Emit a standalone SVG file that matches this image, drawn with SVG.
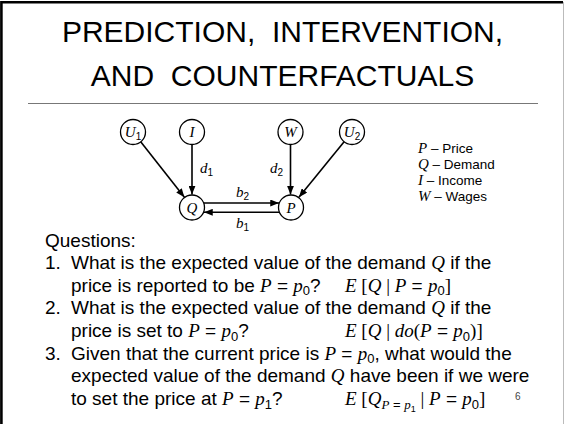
<svg xmlns="http://www.w3.org/2000/svg" width="565" height="424" viewBox="0 0 565 424">
<style>
.t{font-family:"Liberation Sans",Arial,sans-serif;font-size:19px;fill:#000}
.ttl{font-family:"Liberation Sans",Arial,sans-serif;font-size:30px;fill:#000;text-anchor:middle}
.i{font-family:"Liberation Serif","Times New Roman",serif;font-style:italic}
.r{font-family:"Liberation Serif","Times New Roman",serif}
.s{font-size:13px}
.lg{font-family:"Liberation Sans",Arial,sans-serif;font-size:13.5px;fill:#000}
.nl{font-family:"Liberation Serif","Times New Roman",serif;font-style:italic;font-size:15px;fill:#000;text-anchor:middle}
.ns{font-family:"Liberation Sans",Arial,sans-serif;font-style:normal;font-size:10px}
.el{font-family:"Liberation Serif","Times New Roman",serif;font-style:italic;font-size:15px;fill:#000}
.node circle{fill:#fff;stroke:#000;stroke-width:1.3}
.edge{stroke:#000;stroke-width:1.6;fill:none;marker-end:url(#ah)}
</style>
<defs>
<marker id="ah" viewBox="0 0 10 8" refX="10" refY="4" markerWidth="9" markerHeight="7" orient="auto" markerUnits="userSpaceOnUse">
<path d="M0,0 L10,4 L0,8 z" fill="#000"/>
</marker>
</defs>
<rect width="565" height="424" fill="#fff"/>
<path d="M1.4,424 V2.2 H563" stroke="#000" stroke-width="2.6" fill="none"/>
<line x1="563.5" y1="2" x2="563.5" y2="424" stroke="#bbb" stroke-width="1"/>
<g id="title">
<text class="ttl" x="282.5" y="42" xml:space="preserve">PREDICTION,  INTERVENTION,</text>
<text class="ttl" x="282.5" y="86" xml:space="preserve">AND  COUNTERFACTUALS</text>
<line x1="28" y1="103.5" x2="538" y2="103.5" stroke="#777" stroke-width="1.2"/>
</g>
<g id="connectors">
<line class="edge" x1="140.7" y1="141.8" x2="184.4" y2="197.3"/>
<line class="edge" x1="192" y1="144.5" x2="192" y2="194.5"/>
<line class="edge" x1="290.5" y1="144.5" x2="290.5" y2="194.5"/>
<line class="edge" x1="344.1" y1="141.7" x2="298.9" y2="197.3"/>
<line class="edge" x1="204" y1="203" x2="279" y2="203"/>
<line class="edge" x1="279" y1="212.3" x2="204" y2="212.3"/>
<text class="el" x="200" y="173">d<tspan class="ns" dy="3">1</tspan></text>
<text class="el" x="270" y="173">d<tspan class="ns" dy="3">2</tspan></text>
<text class="el" x="236" y="197">b<tspan class="ns" dy="3">2</tspan></text>
<text class="el" x="236" y="228">b<tspan class="ns" dy="3">1</tspan></text>
</g>
<g id="U1" class="node"><circle cx="133" cy="132" r="12.5"/><text class="nl" x="133" y="137">U<tspan class="ns" dy="3">1</tspan></text></g>
<g id="I" class="node"><circle cx="192" cy="132" r="12.5"/><text class="nl" x="192" y="137">I</text></g>
<g id="W" class="node"><circle cx="290.5" cy="132" r="12.5"/><text class="nl" x="290.5" y="137">W</text></g>
<g id="U2" class="node"><circle cx="352" cy="132" r="12.5"/><text class="nl" x="352" y="137">U<tspan class="ns" dy="3">2</tspan></text></g>
<g id="Q" class="node"><circle cx="192" cy="207.5" r="12.5"/><text class="nl" x="192" y="212.5">Q</text></g>
<g id="P" class="node"><circle cx="291" cy="207.5" r="12.5"/><text class="nl" x="291" y="212.5">P</text></g>
<g id="legend">
<text class="lg" x="418" y="153"><tspan class="i" font-size="15">P</tspan> – Price</text>
<text class="lg" x="418" y="169"><tspan class="i" font-size="15">Q</tspan> – Demand</text>
<text class="lg" x="418" y="185"><tspan class="i" font-size="15">I</tspan> – Income</text>
<text class="lg" x="418" y="200.5"><tspan class="i" font-size="15">W</tspan> – Wages</text>
</g>
<g id="questions">
<text class="t" x="45" y="246.5">Questions:</text>
<text class="t" x="45" y="269">1.</text>
<text class="t" x="71" y="269">What is the expected value of the demand <tspan class="i">Q</tspan> if the</text>
<text class="t" x="71" y="291.5">price is reported to be <tspan class="i">P</tspan> = <tspan class="i">p</tspan><tspan class="s" dy="3.5">0</tspan><tspan dy="-3.5">?</tspan></text>
<text class="t" x="345" y="291.5"><tspan class="i">E</tspan><tspan class="r"> [</tspan><tspan class="i">Q</tspan><tspan class="r"> | </tspan><tspan class="i">P</tspan> = <tspan class="i">p</tspan><tspan class="s" dy="3.5">0</tspan><tspan class="r" dy="-3.5">]</tspan></text>
<text class="t" x="45" y="314">2.</text>
<text class="t" x="71" y="314">What is the expected value of the demand <tspan class="i">Q</tspan> if the</text>
<text class="t" x="71" y="337">price is set to <tspan class="i">P</tspan> = <tspan class="i">p</tspan><tspan class="s" dy="3.5">0</tspan><tspan dy="-3.5">?</tspan></text>
<text class="t" x="345" y="337"><tspan class="i">E</tspan><tspan class="r"> [</tspan><tspan class="i">Q</tspan><tspan class="r"> | </tspan><tspan class="i">do</tspan><tspan class="r">(</tspan><tspan class="i">P</tspan> = <tspan class="i">p</tspan><tspan class="s" dy="3.5">0</tspan><tspan class="r" dy="-3.5">)]</tspan></text>
<text class="t" x="45" y="359.5">3.</text>
<text class="t" x="71" y="359.5">Given that the current price is <tspan class="i">P</tspan> = <tspan class="i">p</tspan><tspan class="s" dy="3.5">0</tspan><tspan dy="-3.5">, what would the</tspan></text>
<text class="t" x="71" y="382">expected value of the demand <tspan class="i">Q</tspan> have been if we were</text>
<text class="t" x="71" y="405">to set the price at <tspan class="i">P</tspan> = <tspan class="i">p</tspan><tspan class="s" dy="3.5">1</tspan><tspan dy="-3.5">?</tspan></text>
<text class="t" x="345" y="405"><tspan class="i">E</tspan><tspan class="r"> [</tspan><tspan class="i">Q</tspan><tspan class="i" font-size="13" dy="4">P</tspan><tspan font-size="13"> = </tspan><tspan class="i" font-size="13">p</tspan><tspan font-size="9" dy="3">1</tspan><tspan class="r" dy="-7"> | </tspan><tspan class="i">P</tspan> = <tspan class="i">p</tspan><tspan class="s" dy="3.5">0</tspan><tspan class="r" dy="-3.5">]</tspan></text>
<text x="515" y="400" font-family="Liberation Sans,Arial,sans-serif" font-size="10" fill="#444">6</text>
</g>
</svg>
